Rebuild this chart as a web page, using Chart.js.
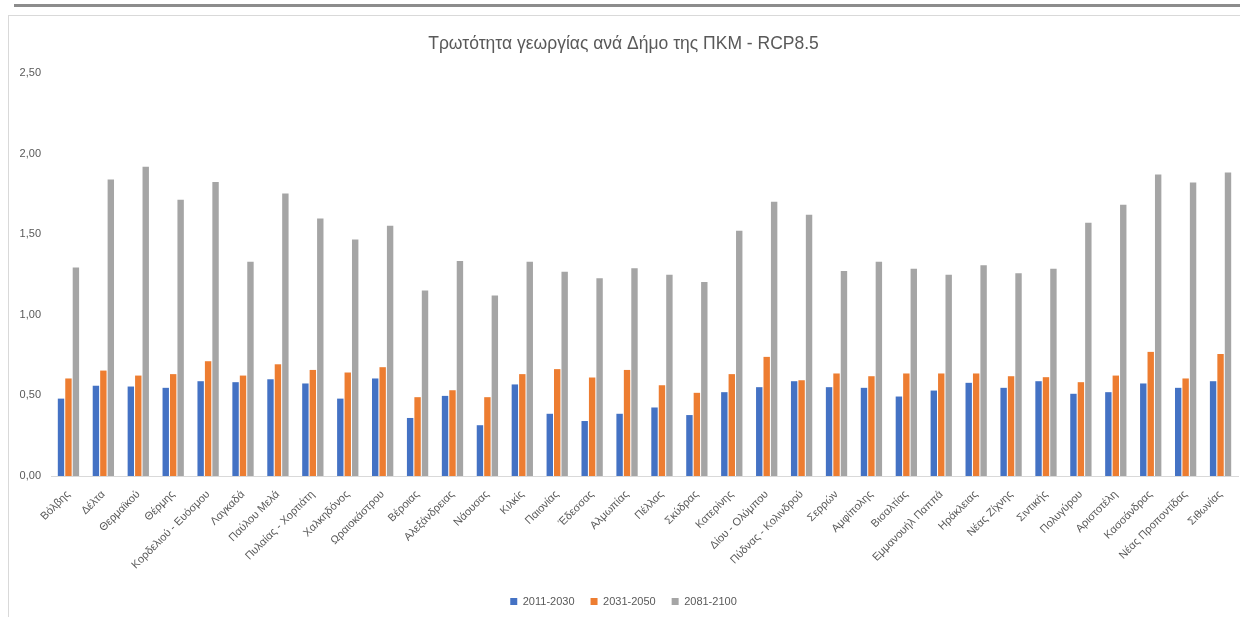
<!DOCTYPE html>
<html>
<head>
<meta charset="utf-8">
<script src="https://cdn.jsdelivr.net/npm/chart.js@4.4.1/dist/chart.umd.min.js"></script>
<style>
  html, body { margin: 0; padding: 0; background: #ffffff; width: 1240px; height: 617px; overflow: hidden; }
  #topbar { position: absolute; left: 14px; top: 4px; width: 1226px; height: 3px; background: #8c8c8c; }
  #box { position: absolute; left: 8px; top: 15px; width: 1232px; height: 602px; border-left: 1px solid #d9d9d9; border-top: 1px solid #d9d9d9; box-sizing: border-box; }
  #wrap { position: absolute; left: 9px; top: 16px; width: 1231px; height: 601px; }
</style>
</head>
<body>
<div id="topbar"></div>
<div id="box"></div>
<div id="wrap"><canvas id="c"></canvas></div>
<script>
const categories = ["Βόλβης","Δέλτα","Θερμαϊκού","Θέρμης","Κορδελιού - Ευόσμου","Λαγκαδά","Παύλου Μελά","Πυλαίας - Χορτιάτη","Χαλκηδόνος","Ωραιοκάστρου","Βέροιας","Αλεξάνδρειας","Νάουσας","Κιλκίς","Παιονίας","Έδεσσας","Αλμωπίας","Πέλλας","Σκύδρας","Κατερίνης","Δίου - Ολύμπου","Πύδνας - Κολινδρού","Σερρών","Αμφίπολης","Βισαλτίας","Εμμανουήλ Παππά","Ηράκλειας","Νέας Ζίχνης","Σιντικής","Πολυγύρου","Αριστοτέλη","Κασσάνδρας","Νέας Προποντίδας","Σιθωνίας"];
const series2011_2030 = [0.48,0.56,0.555,0.547,0.588,0.582,0.60,0.574,0.48,0.605,0.36,0.497,0.315,0.568,0.386,0.341,0.386,0.425,0.378,0.52,0.551,0.588,0.551,0.547,0.493,0.53,0.578,0.547,0.588,0.51,0.52,0.574,0.547,0.588];
const series2031_2050 = [0.605,0.654,0.623,0.632,0.712,0.623,0.693,0.658,0.642,0.675,0.489,0.532,0.489,0.632,0.663,0.611,0.658,0.563,0.516,0.632,0.739,0.594,0.636,0.619,0.636,0.636,0.636,0.619,0.613,0.582,0.623,0.77,0.605,0.757];
const series2081_2100 = [1.294,1.839,1.919,1.713,1.824,1.329,1.752,1.598,1.467,1.552,1.15,1.333,1.119,1.329,1.267,1.226,1.288,1.249,1.203,1.521,1.701,1.62,1.271,1.329,1.286,1.249,1.307,1.257,1.286,1.571,1.682,1.87,1.82,1.882];
const seriesNames = ["2011-2030","2031-2050","2081-2100"];
const yTicks = [0, 0.5, 1.0, 1.5, 2.0, 2.5];
const titleText = "Τρωτότητα γεωργίας ανά Δήμο της ΠΚΜ - RCP8.5";

const colors = ["#4472C4","#ED7D31","#A5A5A5"];
const FONT = "'Liberation Sans', Arial, sans-serif";
const TXT = "#595959";

const mk = (label, data, color) => ({
  label, data, backgroundColor: color, borderColor: "#ffffff", borderWidth: 0,
  categoryPercentage: 0.64, barPercentage: 0.86
});

new Chart(document.getElementById("c"), {
  type: "bar",
  data: {
    labels: categories,
    datasets: [
      mk(seriesNames[0], series2011_2030, colors[0]),
      mk(seriesNames[1], series2031_2050, colors[1]),
      mk(seriesNames[2], series2081_2100, colors[2])
    ]
  },
  options: {
    responsive: true,
    maintainAspectRatio: false,
    animation: false,
    layout: { padding: { left: 0, right: 2, top: 0, bottom: 0 } },
    plugins: {
      title: {
        display: true, text: titleText, color: TXT,
        font: { family: FONT, size: 17.5, weight: "normal" },
        padding: { top: 18, bottom: 18 }
      },
      legend: {
        position: "bottom",
        labels: {
          color: TXT, font: { family: FONT, size: 11 },
          boxWidth: 7, boxHeight: 7, padding: 16
        }
      },
      tooltip: { enabled: false }
    },
    scales: {
      x: {
        grid: { display: false },
        border: { display: true, color: "#d9d9d9", width: 1 },
        ticks: {
          color: TXT, font: { family: FONT, size: 11 },
          minRotation: 45, maxRotation: 45, autoSkip: false, padding: 4
        },
        afterFit: (s) => { s.height = 104; }
      },
      y: {
        min: 0, max: 2.5,
        afterBuildTicks: (s) => { s.ticks = yTicks.map(v => ({ value: v })); },
        grid: { display: false },
        border: { display: false },
        ticks: {
          color: TXT, font: { family: FONT, size: 11 }, padding: 2,
          callback: (v) => Number(v).toFixed(2).replace(".", ",")
        },
        afterFit: (s) => { s.width = 42; }
      }
    }
  }
});
</script>
</body>
</html>
